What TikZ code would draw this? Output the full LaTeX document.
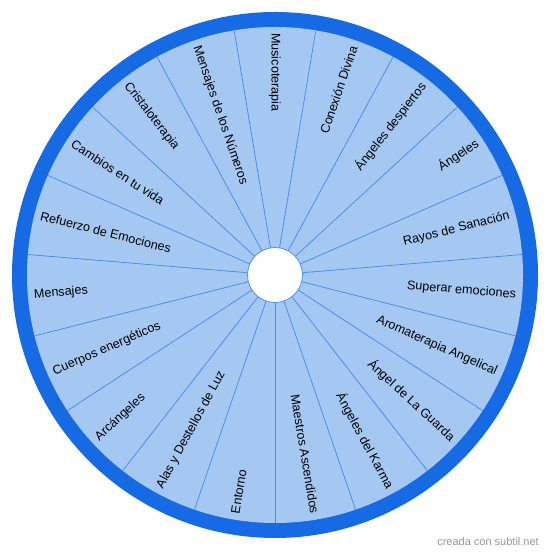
\documentclass[tikz,border=0pt]{standalone}
\usepackage{fontspec}
\setmainfont{Liberation Sans}
\usetikzlibrary{calc}
\definecolor{ringblue}{RGB}{22,107,229}
\definecolor{sectorfill}{RGB}{165,200,242}
\definecolor{spokeblue}{RGB}{74,144,232}
\definecolor{wmgray}{RGB}{150,150,150}
\tikzset{
  lbl/.style={inner sep=0pt, font=\fontsize{12.6}{15}\selectfont, text=black},
  spoke/.style={draw=spokeblue, line width=0.8pt},
  hub/.style={circle, fill=white, draw=spokeblue, line width=0.8pt, minimum size=55pt, inner sep=0pt},
  wm/.style={font=\fontsize{11}{13}\selectfont, text=wmgray, inner sep=0pt}
}
\begin{document}
\begin{tikzpicture}[x=1pt,y=1pt]
\useasboundingbox (0,0) rectangle (550,553);
\coordinate (C) at (275,278);
\fill[ringblue] (C) circle (263);
\fill[sectorfill] (C) circle (248);
\foreach \k in {0,...,18}{
  \draw[spoke] (C) -- ($(C)+(-90+\k*360/19:248)$);
}
\node[hub] (hubnode) at (C) {};
\foreach \t [count=\i from 0] in {Musicoterapia,Conexión Divina,Ángeles despiertos,Ángeles,Rayos de Sanación,Superar emociones,Aromaterapia Angelical,Ángel de La Guarda,Ángeles del Karma,Maestros Ascendidos,Entorno,Alas y Destellos de Luz,Arcángeles,Cuerpos energéticos,Mensajes,Refuerzo de Emociones,Cambios en tu vida,Cristaloterapia,Mensajes de los Números}{
  \pgfmathsetmacro\a{mod(90-\i*360/19+720,360)}
  \pgfmathtruncatemacro\isleft{and(\a>=89.9,\a<269.9)}
  \ifnum\isleft=1
    \node[lbl, anchor=west, rotate=\a+180] (l\i) at ($(C)+(\a:242)$) {\t};
  \else
    \node[lbl, anchor=east, rotate=\a] (l\i) at ($(C)+(\a:242)$) {\t};
  \fi
}
\node[wm] (credit) at (488,11) {creada con subtil.net};
\end{tikzpicture}
\end{document}
